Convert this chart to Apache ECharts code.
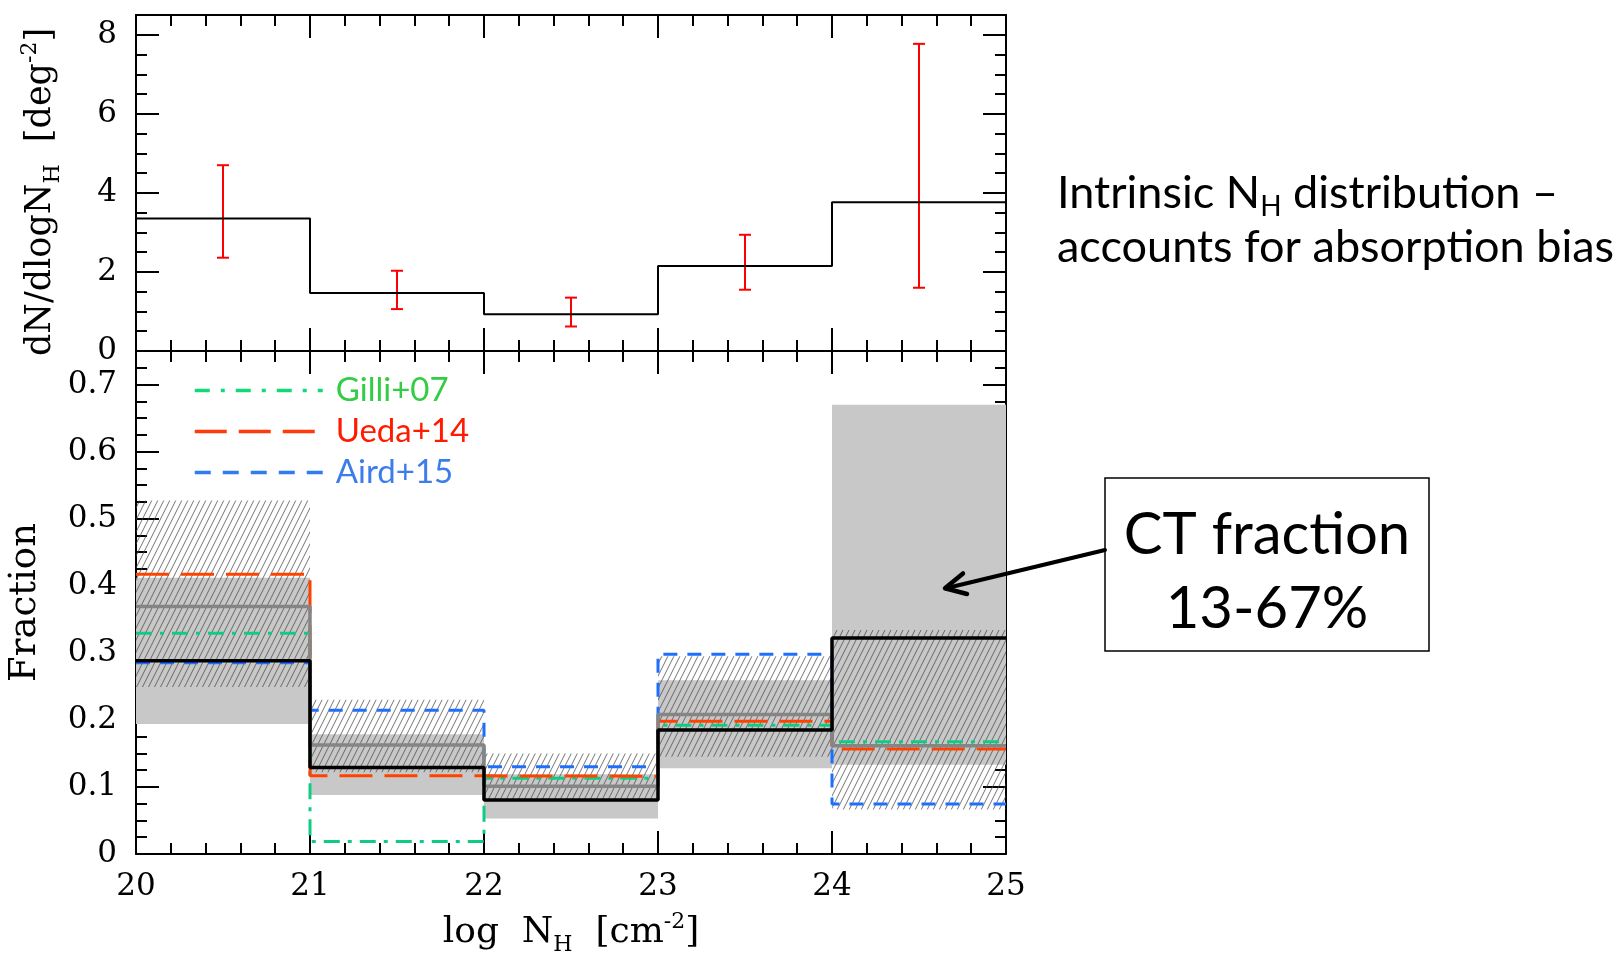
<!DOCTYPE html>
<html>
<head>
<meta charset="utf-8">
<script src="https://cdn.jsdelivr.net/npm/echarts@6/dist/echarts.min.js"></script>
<style>
html,body{margin:0;padding:0;background:#ffffff;}
#chart{width:1621px;height:959px;}
</style>
</head>
<body>
<div id="chart"></div>
<script>
// ---------------- data ----------------
const binEdges = [20, 21, 22, 23, 24, 25];
const binCenters = [20.5, 21.5, 22.5, 23.5, 24.5];
const xTickLabels = [20, 21, 22, 23, 24, 25];
const upperTickLabels = [0, 2, 4, 6, 8];
const lowerTickLabels = [0, 0.1, 0.2, 0.3, 0.4, 0.5, 0.6, 0.7];

// upper panel: intrinsic dN/dlogNH
const dndlognh   = [3.35, 1.47, 0.93, 2.15, 3.76];
const dndlognhLo = [2.36, 1.06, 0.62, 1.55, 1.60];
const dndlognhHi = [4.70, 2.03, 1.35, 2.94, 7.77];

// lower panel: fractions
const fracBlack  = [0.288, 0.129, 0.0805, 0.185, 0.322];
const fracGray   = [0.369, 0.1625, 0.101, 0.208, 0.1615];
const grayBandLo = [0.194, 0.088, 0.053, 0.128, 0.133];
const grayBandHi = [0.412, 0.1785, 0.119, 0.259, 0.670];
const hatchLo    = [0.249, 0.122, 0.080, 0.145, 0.0665];
const hatchHi    = [0.527, 0.230, 0.150, 0.295, 0.334];
const gilli07    = [0.329, 0.0185, 0.113, 0.192, 0.1675];
const ueda14     = [0.417, 0.1165, 0.116, 0.198, 0.1565];
const aird15     = [0.285, 0.2145, 0.130, 0.298, 0.0745];

// ---------------- helpers ----------------
function stepData(vals) {
  return binEdges.map((e, i) => [e, vals[Math.min(i, vals.length - 1)]]);
}
function bandData(lo, hi) {
  return binEdges.slice(0, -1).map((e, i) => [e, binEdges[i + 1], lo[i], hi[i]]);
}
function errData(lo, hi) {
  return binCenters.map((c, i) => [c, lo[i], hi[i]]);
}
function fmtFrom(list) {
  return function (v) {
    const t = list.find(t => Math.abs(t - v) < 1e-6);
    return t === undefined ? '' : String(t);
  };
}

// hatch pattern
const hatch = document.createElement('canvas');
hatch.width = 6; hatch.height = 12;
(function () {
  const c = hatch.getContext('2d');
  c.strokeStyle = 'rgba(70,70,70,0.75)';
  c.lineWidth = 1;
  [[0, 12, 6, 0], [-6, 12, 0, 0], [6, 12, 12, 0]].forEach(s => {
    c.beginPath(); c.moveTo(s[0], s[1]); c.lineTo(s[2], s[3]); c.stroke();
  });
})();
const hatchFill = { image: hatch, repeat: 'repeat' };

function bandRender(fill) {
  return function (params, api) {
    const p0 = api.coord([api.value(0), api.value(3)]);
    const p1 = api.coord([api.value(1), api.value(2)]);
    return {
      type: 'rect',
      shape: { x: p0[0], y: p0[1], width: p1[0] - p0[0], height: p1[1] - p0[1] },
      style: { fill: fill }
    };
  };
}

const tickFont = 'DejaVu Serif';
const axLine = { show: true, onZero: false, lineStyle: { color: '#000', width: 2 } };
function xAx(grid, pos, labels) {
  return {
    type: 'value', gridIndex: grid, position: pos, min: 20, max: 25, interval: 1,
    axisLine: axLine,
    axisTick: { show: true, inside: true, length: 23, lineStyle: { color: '#000', width: 2 } },
    minorTick: { show: true, splitNumber: 5, length: 11, lineStyle: { color: '#000', width: 2 } },
    splitLine: { show: false }, minorSplitLine: { show: false },
    axisLabel: { show: labels, margin: 17, color: '#000', fontFamily: tickFont, fontSize: 31,
                 formatter: fmtFrom(xTickLabels) }
  };
}
function yAx(grid, pos, labels, max, interval, list) {
  return {
    type: 'value', gridIndex: grid, position: pos, min: 0, max: max, interval: interval,
    axisLine: axLine,
    axisTick: { show: true, inside: true, length: 23, lineStyle: { color: '#000', width: 2 } },
    minorTick: { show: true, splitNumber: 4, length: 11, lineStyle: { color: '#000', width: 2 } },
    splitLine: { show: false }, minorSplitLine: { show: false },
    axisLabel: { show: labels, margin: 19, color: '#000', fontFamily: tickFont, fontSize: 31,
                 showMaxLabel: false, formatter: fmtFrom(list) }
  };
}

const nameRich = {
  sub: { fontFamily: tickFont, fontSize: 22, padding: [24, 0, 0, 0] },
  sup: { fontFamily: tickFont, fontSize: 22, padding: [0, 0, 22, 0] }
};

const xAxes = [xAx(0, 'bottom', false), xAx(0, 'top', false), xAx(1, 'bottom', true), xAx(1, 'top', false)];
xAxes[2].name = 'log  N{sub|H}  [cm{sup|-2}]';
xAxes[2].nameLocation = 'middle';
xAxes[2].nameGap = 56;
xAxes[2].nameTextStyle = { fontFamily: tickFont, fontSize: 36, color: '#000', rich: nameRich };

const yAxes = [yAx(0, 'left', true, 8.5, 2, upperTickLabels), yAx(0, 'right', false, 8.5, 2, upperTickLabels),
               yAx(1, 'left', true, 0.75, 0.1, lowerTickLabels), yAx(1, 'right', false, 0.75, 0.1, lowerTickLabels)];
yAxes[0].name = 'dN/dlogN{sub|H}  [deg{sup|-2}]';
yAxes[0].nameLocation = 'middle';
yAxes[0].nameRotate = 90;
yAxes[0].nameGap = 72;
yAxes[0].nameTextStyle = { fontFamily: tickFont, fontSize: 35, color: '#000', rich: nameRich,
                           padding: [0, 18, 0, 0] };
yAxes[2].name = 'Fraction';
yAxes[2].nameLocation = 'middle';
yAxes[2].nameRotate = 90;
yAxes[2].nameGap = 92;
yAxes[2].nameTextStyle = { fontFamily: tickFont, fontSize: 37, color: '#000' };

function stepLine(name, vals, color, width, type) {
  return {
    name: name, type: 'line', xAxisIndex: 2, yAxisIndex: 2, step: 'end',
    data: stepData(vals), symbol: 'none', silent: true,
    itemStyle: { color: color },
    lineStyle: { color: color, width: width, type: type || 'solid' }
  };
}

const hiddenSymbol = { color: 'rgba(0,0,0,0)', borderColor: 'rgba(0,0,0,0)', borderWidth: 0, opacity: 0 };
const annFont = 'Lato';
const option = {
  animation: false,
  backgroundColor: '#ffffff',
  grid: [
    { left: 136, top: 15, width: 870, height: 336, outerBoundsMode: 'none', containLabel: false },
    { left: 136, top: 351, width: 870, height: 503, outerBoundsMode: 'none', containLabel: false }
  ],
  xAxis: xAxes,
  yAxis: yAxes,
  legend: {
    orient: 'vertical', left: 193, top: 370, itemWidth: 128, itemHeight: 4, itemGap: 0,
    padding: 0, selectedMode: false,
    itemStyle: hiddenSymbol,
    textStyle: { fontFamily: annFont, fontSize: 33, lineHeight: 41, padding: [0, 0, 0, 8] },
    data: [
      { name: 'Gilli+07', textStyle: { color: '#33CC44' }, itemStyle: hiddenSymbol,
        lineStyle: { color: '#12D978', width: 3.5, type: [15, 11, 4, 11] } },
      { name: 'Ueda+14', textStyle: { color: '#FF1A00' }, itemStyle: hiddenSymbol,
        lineStyle: { color: '#FF3A0A', width: 3.5, type: [32, 12] } },
      { name: 'Aird+15', textStyle: { color: '#3C7DEB' }, itemStyle: hiddenSymbol,
        lineStyle: { color: '#2F7BF0', width: 3.5, type: [16, 12] } }
    ]
  },
  series: [
    // upper panel
    {
      name: 'dN/dlogNH', type: 'line', xAxisIndex: 0, yAxisIndex: 0, step: 'end',
      data: stepData(dndlognh), symbol: 'none', silent: true,
      lineStyle: { color: '#000', width: 2 }
    },
    {
      name: 'errors', type: 'custom', xAxisIndex: 0, yAxisIndex: 0, silent: true,
      data: errData(dndlognhLo, dndlognhHi),
      renderItem: function (params, api) {
        const x = api.value(0);
        const lo = api.coord([x, api.value(1)]);
        const hi = api.coord([x, api.value(2)]);
        const cap = 6;
        const st = { stroke: '#FF0000', lineWidth: 2 };
        return {
          type: 'group', children: [
            { type: 'line', shape: { x1: lo[0], y1: lo[1], x2: hi[0], y2: hi[1] }, style: st },
            { type: 'line', shape: { x1: lo[0] - cap, y1: lo[1], x2: lo[0] + cap, y2: lo[1] }, style: st },
            { type: 'line', shape: { x1: hi[0] - cap, y1: hi[1], x2: hi[0] + cap, y2: hi[1] }, style: st }
          ]
        };
      }
    },
    // lower panel
    {
      name: 'grayBand', type: 'custom', xAxisIndex: 2, yAxisIndex: 2, silent: true,
      data: bandData(grayBandLo, grayBandHi), renderItem: bandRender('#C8C8C8')
    },
    {
      name: 'hatchBand', type: 'custom', xAxisIndex: 2, yAxisIndex: 2, silent: true,
      data: bandData(hatchLo, hatchHi), renderItem: bandRender(hatchFill)
    },
    stepLine('Gilli+07', gilli07, '#10CC82', 3, [16, 8, 4, 8]),
    stepLine('Ueda+14', ueda14, '#FF4200', 3, [33, 12]),
    stepLine('Aird+15', aird15, '#1F6FFF', 3, [14, 10]),
    stepLine('gray', fracGray, '#858585', 3.5),
    stepLine('black', fracBlack, '#000000', 3.5)
  ],
  graphic: [
    {
      type: 'text', left: 1057, top: 171, silent: true, z: 100,
      style: {
        text: 'Intrinsic N{sub|H} distribution \u2013', fontFamily: annFont, fontSize: 45, fill: '#000',
        rich: { sub: { fontFamily: annFont, fontSize: 28, fill: '#000', padding: [26, 0, 0, 0] } }
      }
    },
    {
      type: 'text', left: 1057, top: 225, silent: true, z: 100,
      style: { text: 'accounts for absorption bias', fontFamily: annFont, fontSize: 45, fill: '#000' }
    },
    {
      type: 'rect', silent: true, z: 100,
      shape: { x: 1105, y: 478, width: 324, height: 173 },
      style: { fill: 'none', stroke: '#000', lineWidth: 1.5 }
    },
    {
      type: 'text', silent: true, x: 1267, y: 535, z: 100,
      style: { text: 'CT fraction', fontFamily: annFont, fontSize: 58, fill: '#000',
               align: 'center', verticalAlign: 'middle' }
    },
    {
      type: 'text', silent: true, x: 1267, y: 609, z: 100,
      style: { text: '13-67%', fontFamily: annFont, fontSize: 58, fill: '#000',
               align: 'center', verticalAlign: 'middle' }
    },
    {
      type: 'polyline', silent: true, z: 100,
      shape: { points: [[1105, 550], [946, 588.3]] },
      style: { stroke: '#000', lineWidth: 4, lineCap: 'round', fill: 'none' }
    },
    {
      type: 'polyline', silent: true, z: 100,
      shape: { points: [[963, 573.5], [945, 588.3], [967, 594]] },
      style: { stroke: '#000', lineWidth: 4.5, lineCap: 'round', lineJoin: 'round', fill: 'none' }
    }
  ]
};

const chart = echarts.init(document.getElementById('chart'), null, { renderer: 'canvas' });
chart.setOption(option);
</script>
</body>
</html>
